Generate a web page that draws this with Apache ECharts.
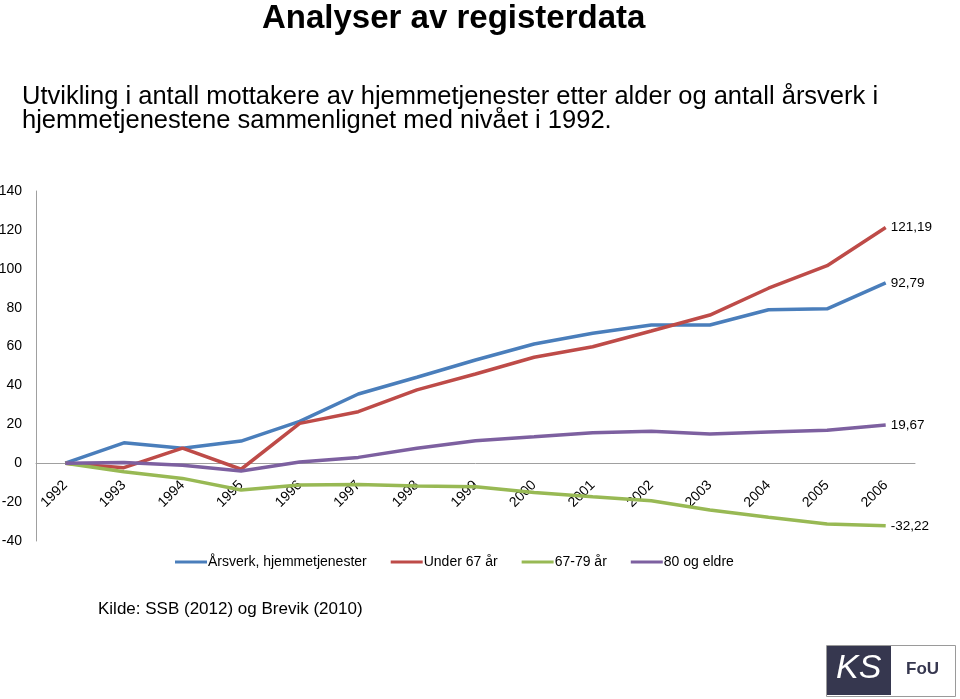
<!DOCTYPE html>
<html><head><meta charset="utf-8">
<script src="https://cdn.jsdelivr.net/npm/echarts@6/dist/echarts.min.js"></script>
<style>html,body{margin:0;padding:0;background:#fff}#c{width:960px;height:699px}</style>
</head><body><div id="c"></div>
<script>
const years = ['1992','1993','1994','1995','1996','1997','1998','1999','2000','2001','2002','2003','2004','2005','2006'];
const arsverk = [0, 10.5, 7.7, 11.4, 21.5, 35.6, 44.2, 53.1, 61.3, 66.8, 71.1, 71.1, 78.9, 79.4, 92.79];
const under67 = [0, -2.3, 7.8, -3.1, 20.5, 26.5, 37.7, 45.9, 54.5, 59.9, 68.0, 76.2, 90.0, 101.6, 121.19];
const age67to79 = [0, -4.4, -7.8, -13.8, -11.2, -10.9, -11.7, -12.1, -15.0, -17.2, -19.3, -24.1, -27.8, -31.3, -32.22];
const age80plus = [0, 0.4, -1.1, -4.0, 0.6, 3.0, 7.7, 11.6, 13.6, 15.7, 16.4, 15.0, 16.0, 16.9, 19.67];
const seriesNames = ['Årsverk, hjemmetjenester', 'Under 67 år', '67-79 år', '80 og eldre'];
const yTicks = [-40, -20, 0, 20, 40, 60, 80, 100, 120, 140];

const colors = ['#4A7EBB', '#BE4B48', '#98B954', '#7D60A0'];
const font = '"Liberation Sans", "DejaVu Sans", sans-serif';
const datasets = [arsverk, under67, age67to79, age80plus];

const chart = echarts.init(document.getElementById('c'));
chart.setOption({
  animation: false,
  backgroundColor: '#fff',
  textStyle: { fontFamily: font },
  title: [
    { text: 'Analyser av registerdata', left: 257, top: -3,
      textStyle: { fontFamily: font, fontWeight: 'bold', fontSize: 33, color: '#000' } },
    { text: 'Utvikling i antall mottakere av hjemmetjenester etter alder og antall årsverk i\nhjemmetjenestene sammenlignet med nivået i 1992.',
      left: 17, top: 80,
      textStyle: { fontFamily: font, fontWeight: 'normal', fontSize: 25.5, lineHeight: 24, color: '#000' } },
    { text: 'Kilde: SSB (2012) og Brevik (2010)', left: 93, top: 596,
      textStyle: { fontFamily: font, fontWeight: 'normal', fontSize: 17, color: '#000' } }
  ],
  legend: {
    data: seriesNames, left: 170, top: 550, itemWidth: 32, itemHeight: 3, itemGap: 24,
    icon: 'rect',
    textStyle: { fontFamily: font, fontSize: 14, color: '#000', padding: [0, 0, 0, -4] }
  },
  grid: { left: 36, right: 45, top: 191, bottom: 158, containLabel: false, outerBoundsMode: 'none' },
  xAxis: {
    type: 'category', data: years, boundaryGap: true,
    axisLine: { onZero: true, lineStyle: { color: '#A0A0A0', width: 1 } },
    axisTick: { show: false },
    axisLabel: { rotate: 45, margin: -58, fontSize: 14, color: '#000', fontFamily: font }
  },
  yAxis: {
    type: 'value', min: -40, max: 140, interval: 20,
    axisLine: { show: true, lineStyle: { color: '#A0A0A0', width: 1 } },
    axisTick: { show: false },
    splitLine: { show: false },
    axisLabel: { margin: 14, fontSize: 14, color: '#000', fontFamily: font,
      formatter: v => yTicks.includes(v) ? String(v) : '' }
  },
  series: datasets.map((d, i) => ({
    name: seriesNames[i], type: 'line', data: d, symbol: 'none',
    lineStyle: { width: 3.5, color: colors[i] }, itemStyle: { color: colors[i] },
    endLabel: { show: true, distance: 5, fontSize: 13.5, color: '#000', fontFamily: font,
      formatter: p => String(p.value).replace('.', ',') }
  })),
  graphic: [
    { type: 'rect', left: 826, top: 645, shape: { width: 129, height: 51 },
      style: { fill: '#fff', stroke: '#9a9a9a', lineWidth: 1 } },
    { type: 'rect', left: 827, top: 646, shape: { width: 64, height: 49 },
      style: { fill: '#36374f' } },
    { type: 'text', left: 836, top: 652,
      style: { text: 'KS', fill: '#fff', font: 'italic 34px "Liberation Sans", sans-serif' } },
    { type: 'text', left: 906, top: 661,
      style: { text: 'FoU', fill: '#36374f', font: 'bold 17px "Liberation Sans", sans-serif' } }
  ]
});
</script></body></html>
